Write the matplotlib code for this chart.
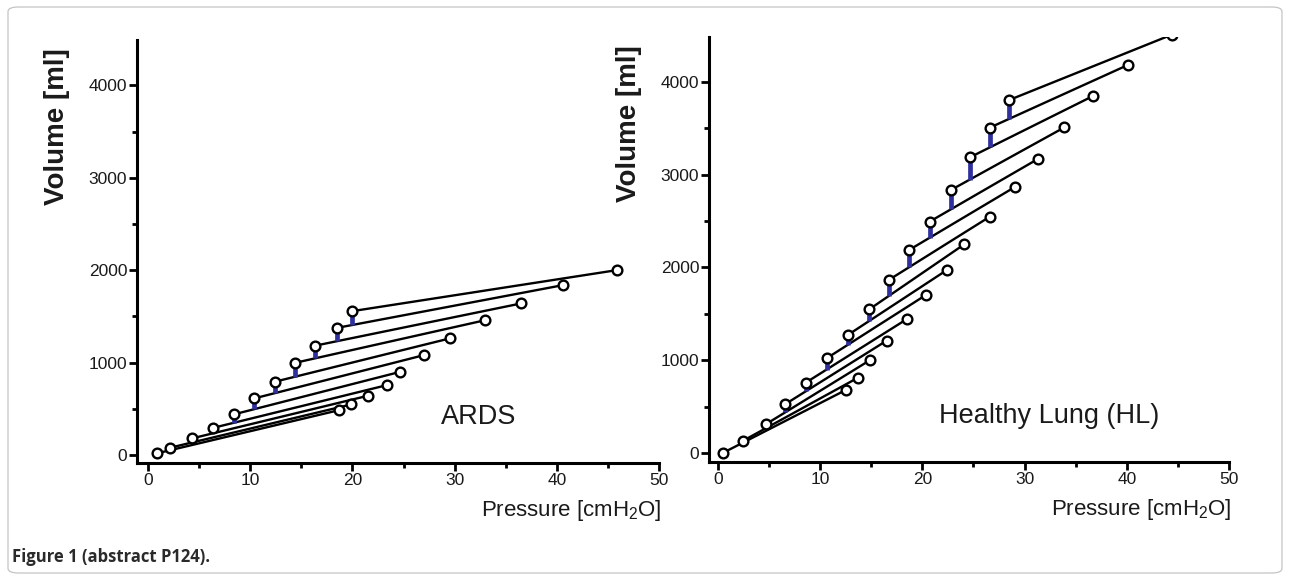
import matplotlib
matplotlib.use("Agg")
import matplotlib.pyplot as plt
from matplotlib.patches import FancyBboxPatch
import numpy as np

# ---- data: ARDS ----
ards_start_p = [0.85, 2.15, 4.3, 6.4, 8.4, 10.4, 12.4, 14.4, 16.3, 18.5, 20.0]
ards_start_v = [18, 79, 180, 295, 440, 613, 793, 998, 1182, 1376, 1557]
ards_end_p = [18.7, 19.9, 21.5, 23.4, 24.7, 27.0, 29.5, 33.0, 36.5, 40.6, 45.85]
ards_end_v = [486, 548, 641, 757, 901, 1081, 1261, 1459, 1640, 1838, 2000]

# ---- data: Healthy lung ----
hl_start_p = [0.46, 2.4, 4.67, 6.56, 8.58, 10.63, 12.7, 14.8, 16.7, 18.7, 20.7, 22.8, 24.65, 26.6, 28.5]
hl_start_v = [0, 129, 309, 525, 758, 1021, 1272, 1549, 1865, 2189, 2494, 2836, 3188, 3508, 3806]
hl_end_p = [12.5, 13.7, 14.9, 16.5, 18.5, 20.35, 22.4, 24.1, 26.6, 29.1, 31.3, 33.9, 36.7, 40.1, 44.4]
hl_end_v = [679, 812, 1003, 1211, 1445, 1704, 1973, 2250, 2548, 2871, 3170, 3511, 3849, 4183, 4510]

x_ticks = [0, 10, 20, 30, 40, 50]
y_ticks = [0, 1000, 2000, 3000, 4000]
titles = ["ARDS", "Healthy Lung (HL)"]

plt.rcParams['mathtext.default'] = 'regular'
sans = ['Liberation Sans', 'DejaVu Sans']

fig = plt.figure(figsize=(12.9, 5.79), dpi=100)

# rounded frame
frame = FancyBboxPatch((8 / 1290, 6 / 579), 1274 / 1290, 566 / 579,
                       boxstyle="round,pad=0,rounding_size=0.008",
                       transform=fig.transFigure, fill=False,
                       edgecolor='#c4c4c4', linewidth=0.9)
fig.patches.append(frame)

ax1 = fig.add_axes([137 / 1290, 1 - 463 / 579, (659 - 137) / 1290, (463 - 40) / 579])
ax2 = fig.add_axes([709 / 1290, 1 - 462 / 579, (1229 - 709) / 1290, (462 - 37) / 579])

def draw(ax, sp, sv, ep, ev, title, xlim, ylim):
    sp = np.array(sp, float); sv = np.array(sv, float)
    ep = np.array(ep, float); ev = np.array(ev, float)
    for a, b, c, d in zip(sp, sv, ep, ev):
        ax.plot([a, c], [b, d], color='black', lw=1.7, zorder=2, solid_capstyle='round')
    # recruited volume: previous line evaluated at new start pressure
    slope = (ev[:-1] - sv[:-1]) / (ep[:-1] - sp[:-1])
    bottoms = sv[:-1] + slope * (sp[1:] - sp[:-1])
    ax.vlines(sp[1:], bottoms, sv[1:], color='#2f2f9e', lw=3.4, zorder=3)
    ax.plot(sp, sv, 'o', ms=7, mfc='white', mec='black', mew=1.7, zorder=4)
    ax.plot(ep, ev, 'o', ms=7, mfc='white', mec='black', mew=1.7, zorder=4)
    ax.set_xlim(*xlim)
    ax.set_ylim(*ylim)
    for s in ['top', 'right']:
        ax.spines[s].set_visible(False)
    for s in ['left', 'bottom']:
        ax.spines[s].set_linewidth(2.2)
    ax.set_xticks(x_ticks)
    ax.set_xticks([5, 15, 25, 35, 45], minor=True)
    ax.set_yticks(y_ticks)
    ax.set_yticks([500, 1500, 2500, 3500], minor=True)
    ax.tick_params(which='major', direction='out', length=5.5, width=2.0, pad=1.5)
    ax.tick_params(which='minor', direction='out', length=3.5, width=2.0)
    for lab in ax.get_xticklabels() + ax.get_yticklabels():
        lab.set_family(sans)
        lab.set_fontsize(12.5)
        lab.set_color('#1a1a1a')
    ax.set_ylabel('Volume [ml]', fontsize=20, fontweight='bold', family=sans, color='#1a1a1a')
    ax.yaxis.set_label_coords(-0.128, 0.795)
    ax.text(1.005, -0.112, 'Pressure [cmH$_2$O]', transform=ax.transAxes,
            ha='right', va='center', fontsize=16, family=sans, color='#1a1a1a')
    ax.text(0.655, 0.108, title, transform=ax.transAxes, ha='center', va='center',
            fontsize=19.5, family=sans, color='#1a1a1a')

draw(ax1, ards_start_p, ards_start_v, ards_end_p, ards_end_v, titles[0], (-1.08, 50), (-86, 4490))
draw(ax2, hl_start_p, hl_start_v, hl_end_p, hl_end_v, titles[1], (-0.88, 50), (-97, 4485))

fig.text(12 / 1290, 1 - 557 / 579, 'Figure 1 (abstract P124).', ha='left', va='center',
         fontsize=12, fontweight='bold', family=['Open Sans', 'DejaVu Sans'], color='#2a2a2a')

fig.savefig('out.png', dpi=100)
